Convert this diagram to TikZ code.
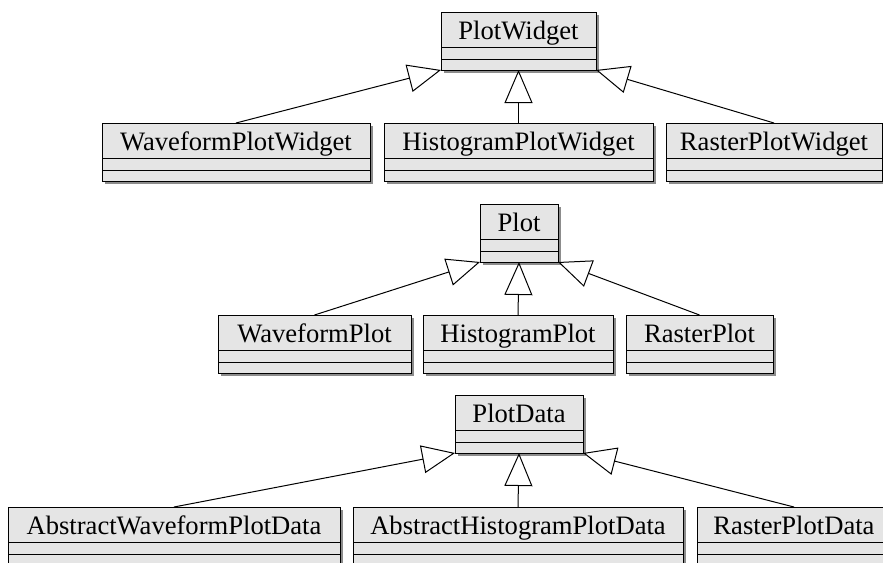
\documentclass[tikz,border=0pt]{standalone}
\usepackage{fontspec}
\setmainfont{Liberation Serif}
\usetikzlibrary{arrows.meta,shadows}
\tikzset{
  cls/.style={draw, fill=black!10, line width=1pt, inner sep=0pt, outer sep=0pt,
    text height=27.5pt, text depth=30.5pt, minimum height=58pt,
    font=\fontsize{26.6pt}{30pt}\selectfont,
    drop shadow={shadow xshift=3pt, shadow yshift=-3pt, fill=black, opacity=0.45}},
  sep/.style={line width=1pt},
  inherit/.style={line width=1pt, -{Triangle[width=28pt,length=33pt,fill=white,line join=miter]}}
}
\newcommand\umlbox[5]{%
  \node[cls, minimum width=#4pt, anchor=north west] (#1) at (#2,#3) {#5};
  \draw[sep] ([yshift=-35pt]#1.north west) -- ([yshift=-35pt]#1.north east);
  \draw[sep] ([yshift=-47pt]#1.north west) -- ([yshift=-47pt]#1.north east);
}
\begin{document}
\begin{tikzpicture}[x=1pt,y=-1pt]
\useasboundingbox (0,0) rectangle (883,562);
\clip (0,0) rectangle (883,562);
% row 1
\umlbox{pw}{441}{12}{155}{PlotWidget}
\umlbox{wpw}{102}{123}{268}{WaveformPlotWidget}
\umlbox{hpw}{384}{123}{269}{HistogramPlotWidget}
\umlbox{rpw}{666}{123}{216}{RasterPlotWidget}
% row 2
\umlbox{p}{480}{204}{78}{Plot}
\umlbox{wp}{218}{315}{193}{WaveformPlot}
\umlbox{hp}{423}{315}{190}{HistogramPlot}
\umlbox{rp}{626}{315}{147}{RasterPlot}
% row 3
\umlbox{pd}{455}{395}{128}{PlotData}
\umlbox{awpd}{8}{507}{332}{AbstractWaveformPlotData}
\umlbox{ahpd}{353}{507}{330}{AbstractHistogramPlotData}
\umlbox{rpd}{697}{507}{194}{RasterPlotData}
% inheritance
\draw[inherit] (wpw.north) -- (pw.south west);
\draw[inherit] (hpw.north) -- (pw.south);
\draw[inherit] (rpw.north) -- (pw.south east);
\draw[inherit] (wp.north) -- (p.south west);
\draw[inherit] (hp.north) -- (p.south);
\draw[inherit] (rp.north) -- (p.south east);
\draw[inherit] (awpd.north) -- (pd.south west);
\draw[inherit] (ahpd.north) -- (pd.south);
\draw[inherit] (rpd.north) -- (pd.south east);
\end{tikzpicture}
\end{document}
